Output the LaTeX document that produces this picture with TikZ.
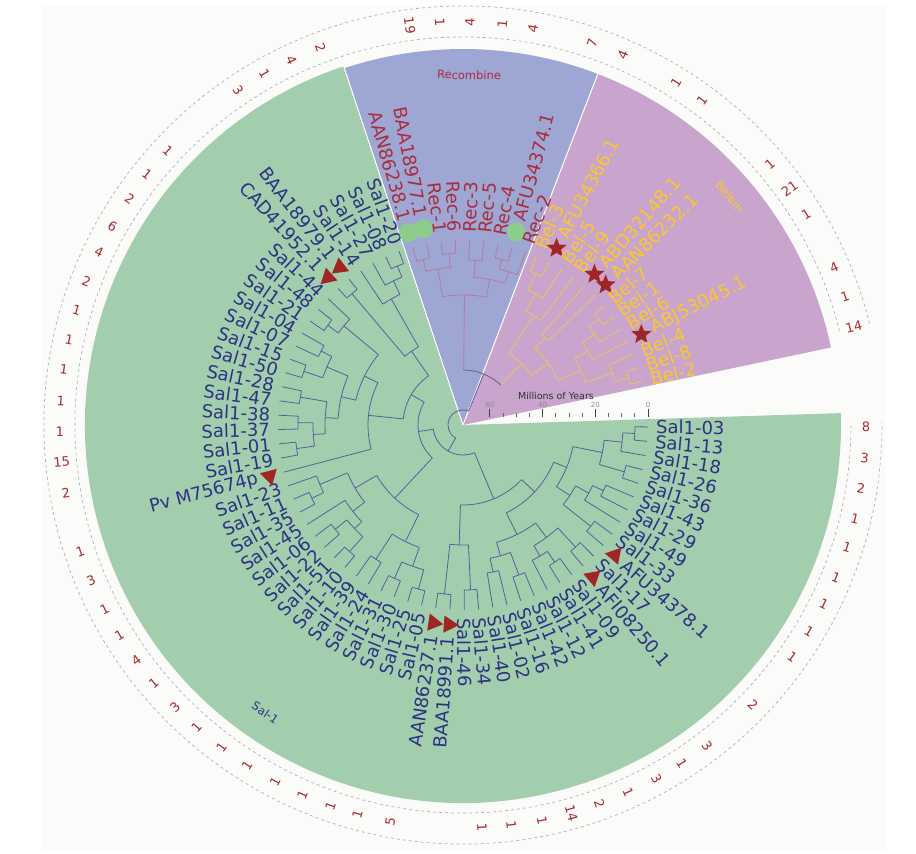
\documentclass[tikz,border=0pt]{standalone}
\usepackage{fontspec}
\setmainfont{DejaVu Sans}
\usetikzlibrary{shapes.geometric}

\definecolor{salbg}{RGB}{163,206,173}
\definecolor{recbg}{RGB}{158,166,211}
\definecolor{belbg}{RGB}{201,165,205}
\definecolor{saltx}{RGB}{45,50,130}
\definecolor{rectx}{RGB}{170,45,60}
\definecolor{beltx}{RGB}{250,200,45}
\definecolor{salbr}{RGB}{86,96,154}
\definecolor{recbr}{RGB}{185,120,159}
\definecolor{belbr}{RGB}{239,194,90}
\definecolor{cnttx}{RGB}{165,45,45}
\definecolor{mkred}{RGB}{160,38,38}
\definecolor{dotgreen}{RGB}{140,204,140}
\definecolor{paper}{RGB}{251,251,249}

% label on a leaf, turned so that it reads upright
\newcommand\leaflabel[5]{%
  \pgfmathsetmacro\cosv{cos(#1)}%
  \pgfmathsetmacro\rotv{#1+180}%
  \ifdim\cosv pt<0pt
    \node[#4,anchor=east,rotate=\rotv] (#5) at (#1:#2pt) {#3};
  \else
    \node[#4,anchor=west,rotate=#1] (#5) at (#1:#2pt) {#3};
  \fi}
% inner node of the tree: arc between children, stem to parent
\newcommand\clade[5]{%
  \pgfmathsetmacro\angA{#1(#2)}%
  \pgfmathsetmacro\angB{#1(#3)}%
  \pgfmathsetmacro\angM{#1((#2+#3)/2)}%
  \draw (\angA:#4pt) arc[start angle=\angA,end angle=\angB,radius=#4pt];
  \draw (\angM:#4pt) -- (\angM:#5pt);}

\begin{document}
\begin{tikzpicture}[x=1pt,y=1pt,line cap=butt,
  declare function={salang(\p)=359.4-(\p-1)*4.45;
    recang(\p)=105.75-(\p-1)*4.45;
    belang(\p)=66.5-(\p-1)*4.4;},
  salline/.style={draw=salbr,line width=0.8pt},
  recline/.style={draw=recbr,line width=0.8pt},
  belline/.style={draw=belbr,line width=0.8pt},
  sallabel/.style={text=saltx,inner sep=0pt,font=\fontsize{18}{18}\selectfont},
  reclabel/.style={text=rectx,inner sep=0pt,font=\fontsize{18}{18}\selectfont},
  bellabel/.style={text=beltx,inner sep=0pt,font=\fontsize{18}{18}\selectfont},
  salmark/.style={regular polygon,regular polygon sides=3,fill=mkred,inner sep=0pt,minimum size=20pt},
  belmark/.style={star,star points=5,star point ratio=2.3,fill=mkred,inner sep=0pt,minimum size=21pt},
  recmark/.style={circle,fill=dotgreen,inner sep=0pt,minimum size=19pt},
  cnt/.style={text=cnttx,inner sep=0pt,font=\fontsize{13}{13}\selectfont},
  grouplabel/.style={inner sep=0pt,font=\fontsize{11.5}{11.5}\selectfont},
  ring/.style={draw=black!30,dashed,line width=0.7pt}]

\useasboundingbox[fill=white] (-463,-429) rectangle (453,425);
\fill[paper] (-421,419) rectangle (422,-425);

% sectors
\fill[salbg] (0,0) -- (108.4:378pt) arc[start angle=108.4,end angle=361.8,radius=378pt] -- cycle;
\fill[recbg] (0,0) -- (69:376pt) arc[start angle=69,end angle=108.4,radius=376pt] -- cycle;
\fill[belbg] (0,0) -- (11.9:376pt) arc[start angle=11.9,end angle=69,radius=376pt] -- cycle;
\draw[white,line width=1pt] (0,0) -- (108.4:378pt) (0,0) -- (69:376pt);

% rings of counts
\draw[ring] (14:388pt) arc[start angle=14,end angle=360.3,radius=388pt];
\draw[ring] (14:419pt) arc[start angle=14,end angle=360.3,radius=419pt];
\foreach \a/\v [count=\k] in {-0.3/8,-4.7/3,-9.0/2,-13.4/1,-17.7/1,-22.2/1,-26.4/1,-30.8/1,-35.2/1,
  -44.0/2,-52.7/3,-57.1/1,-61.3/3,-65.8/1,-70.2/2,-74.4/14,-78.7/1,-83.1/1,-87.3/1,
  -100.4/5,-105.2/1,-109.2/1,-113.5/1,-117.8/1,-122.4/1,-126.8/1,-131.4/1,-135.6/3,-140.1/1,
  -144.2/4,-148.5/1,-152.8/1,-157.3/3,-161.7/1,-170.3/2,-174.7/15,-179.1/1,176.6/1,172.1/1,
  167.8/1,163.5/1,159.1/2,154.5/4,150.4/6,145.8/2,141.6/1,137.1/1,123.9/3,119.5/1,115.2/4,
  110.7/2,97.6/19,93.3/1,89.0/4,84.4/1,80.0/4,71.3/7,66.6/4,58.1/1,53.6/1,40.4/1,35.9/21,
  31.6/1,23.0/4,18.6/1,14.1/14}{
  \pgfmathsetmacro\cosv{cos(\a)}
  \pgfmathsetmacro\rotv{\cosv<0 ? \a+180 : \a}
  \node[cnt,rotate=\rotv] (cnt\k) at (\a:403pt) {\v};
}

% tree: Sal-1
\begin{scope}[salline]
\foreach \pa/\pb/\r/\rp in {1/2/172/160,1.5/3/160/142,4/5/168/142,2.25/4.5/142/112,6/7/155/143,
  6.5/8/143/128,9/10/163/128,7.25/9.5/128/112,3.375/8.375/112/98,11/12/166/140,13/14/165/152,
  13.5/15/152/140,11.5/14.25/140/122,16/17/160/136,18/19/150/136,16.5/18.5/136/122,
  12.875/17.5/122/98,5.875/15.1875/98/80,20/21/165/120,22/23/170/120,20.5/22.5/120/80,
  10.53125/21.5/80/30,24/25/170/150,26/27/168/150,24.5/26.5/150/130,28/29/160/130,
  25.5/28.5/130/100,30/31/170/150,32/33/165/150,30.5/32.5/150/140,31.5/34/140/125,
  35/36/168/155,35.5/37/155/125,32.75/36.25/125/100,27/34.5/100/45,39/40/168/150,
  41/42/165/150,39.5/41.5/150/138,43/44/165/138,40.5/43.5/138/125,45/46/168/148,
  47/48/160/148,45.5/47.5/148/125,42/46.5/125/110,49/50/168/155,49.5/51/155/110,
  44.25/50.25/110/95,38/47.25/95/60,52/53/172/90,56/57/172/160,55/56.5/160/145,
  54/55.75/145/90,52.5/54.875/90/60,42.625/53.6875/60/45,30.75/48.15625/45/30,
  16.015625/39.453125/30/15}{
  \clade{salang}{\pa}{\pb}{\r}{\rp}
}
\end{scope}
% tree: Recombine
\begin{scope}[recline]
\foreach \pa/\pb/\r/\rp in {1/2/170/158,3/4/172/158,1.5/3.5/158/130,5/6/165/148,7/8/170/160,
  7.5/9/160/148,5.5/8.25/148/130,2.5/6.875/130/55}{
  \clade{recang}{\pa}{\pb}{\r}{\rp}
}
\end{scope}
% tree: Belem
\begin{scope}[belline]
\foreach \pa/\pb/\r/\rp in {1/2/168/150,1.5/3/150/130,2.25/4/130/85,5/6/120/105,7/8/172/160,
  7.5/9/160/145,8.25/10/145/130,12/13/172/158,11/12.5/158/130,9.125/11.75/130/105,
  5.5/10.4375/105/85,3.125/7.96875/85/55}{
  \clade{belang}{\pa}{\pb}{\r}{\rp}
}
\end{scope}
% root
\draw[salline] (89.34:55pt) arc[start angle=89.34,end angle=46.49,radius=55pt]
  (67.92:55pt) -- (67.92:15pt)
  (67.92:15pt) arc[start angle=67.92,end angle=240.43,radius=15pt];

% leaves
\foreach \t/\m/\r [count=\i] in {Sal1-03/0/172,Sal1-13/0/172,Sal1-18/0/160,Sal1-26/0/168,
  Sal1-36/0/168,Sal1-43/0/155,Sal1-29/0/155,Sal1-49/0/143,Sal1-33/0/163,AFU34378.1/1/163,
  Sal1-17/0/166,AFI08250.1/1/166,Sal1-09/0/165,Sal1-41/0/165,Sal1-12/0/152,Sal1-42/0/160,
  Sal1-16/0/160,Sal1-02/0/150,Sal1-40/0/150,Sal1-34/0/165,Sal1-46/0/165,BAA18991.1/1/170,
  AAN86237.1/1/170,Sal1-05/0/170,Sal1-25/0/170,Sal1-30/0/168,Sal1-31/0/168,Sal1-24/0/160,
  Sal1-39/0/160,Sal1-10/0/170,Sal1-51/0/170,Sal1-22/0/165,Sal1-06/0/165,Sal1-45/0/140,
  Sal1-35/0/168,Sal1-11/0/168,Sal1-23/0/155,Pv M75674p/1/95,Sal1-19/0/168,Sal1-01/0/168,
  Sal1-37/0/165,Sal1-38/0/165,Sal1-47/0/165,Sal1-28/0/165,Sal1-50/0/168,Sal1-15/0/168,
  Sal1-07/0/160,Sal1-04/0/160,Sal1-21/0/168,Sal1-48/0/168,Sal1-44/0/155,CAD41952.1/1/172,
  BAA18979.1/1/172,Sal1-14/0/145,Sal1-27/0/160,Sal1-08/0/172,Sal1-20/0/172}{
  \pgfmathsetmacro\ang{salang(\i)}
  \draw[salline] (\ang:185pt) -- (\ang:\r pt);
  \ifnum\m=1 \def\rl{212}\else\def\rl{193}\fi
  \leaflabel{\ang}{\rl}{\t}{sallabel}{sal\i}
  \ifnum\m=1 \node[salmark,rotate=\ang] (salmk\i) at (\ang:200pt) {};\fi
}
\foreach \t/\m/\r [count=\i] in {AAN86238.1/1/170,BAA18977.1/1/170,Rec-1/0/172,Rec-6/0/172,
  Rec-3/0/165,Rec-5/0/165,Rec-4/0/170,AFU34374.1/1/170,Rec-2/0/160}{
  \pgfmathsetmacro\ang{recang(\i)}
  \draw[recline] (\ang:185pt) -- (\ang:\r pt);
  \ifnum\m=1 \def\rl{212}\else\def\rl{193}\fi
  \leaflabel{\ang}{\rl}{\t}{reclabel}{rec\i}
  \ifnum\m=1 \node[recmark] (recmk\i) at (\ang:200pt) {};\fi
}
\foreach \t/\m/\r [count=\i] in {Bel-3/0/168,AFU34366.1/1/168,Bel-5/0/150,Bel-9/0/130,
  ABD32148.1/1/120,AAN86232.1/1/120,Bel-7/0/172,Bel-1/0/172,Bel-6/0/160,ABJ53045.1/1/145,
  Bel-4/0/158,Bel-8/0/172,Bel-2/0/172}{
  \pgfmathsetmacro\ang{belang(\i)}
  \draw[belline] (\ang:185pt) -- (\ang:\r pt);
  \ifnum\m=1 \def\rl{212}\else\def\rl{193}\fi
  \leaflabel{\ang}{\rl}{\t}{bellabel}{bel\i}
  \ifnum\m=1 \node[belmark] (belmk\i) at (\ang:200pt) {};\fi
}

% scale
\foreach \k in {0,...,12}{
  \pgfmathsetmacro\tx{185-13.17*\k}
  \ifnum\k=0 \draw[black!75,line width=1pt] (\tx,8) -- (\tx,16);
  \else\ifnum\k=4 \draw[black!75,line width=1pt] (\tx,8) -- (\tx,16);
  \else\ifnum\k=8 \draw[black!75,line width=1pt] (\tx,8) -- (\tx,16);
  \else\ifnum\k=12 \draw[black!75,line width=1pt] (\tx,8) -- (\tx,16);
  \else \draw[black!60,line width=0.7pt] (\tx,8) -- (\tx,12);
  \fi\fi\fi\fi
}
\foreach \v/\k in {0/0,20/4,40/8,60/12}{
  \node[inner sep=0pt,text=black!45,font=\fontsize{7}{7}\selectfont] (tick\v) at ({185-13.17*\k},20) {\v};
}
\node[inner sep=0pt,text=black!80,font=\fontsize{9.5}{9.5}\selectfont] (scale) at (93,29) {Millions of Years};

% group names
\node[grouplabel,text=rectx,rotate=-1] (recname) at (89:350pt) {Recombine};
\node[grouplabel,text=beltx,rotate=-49.5] (belname) at (40.5:351pt) {Belem};
\node[grouplabel,text=saltx,rotate=-34.5] (salname) at (235.5:349pt) {Sal-1};
\end{tikzpicture}
\end{document}
